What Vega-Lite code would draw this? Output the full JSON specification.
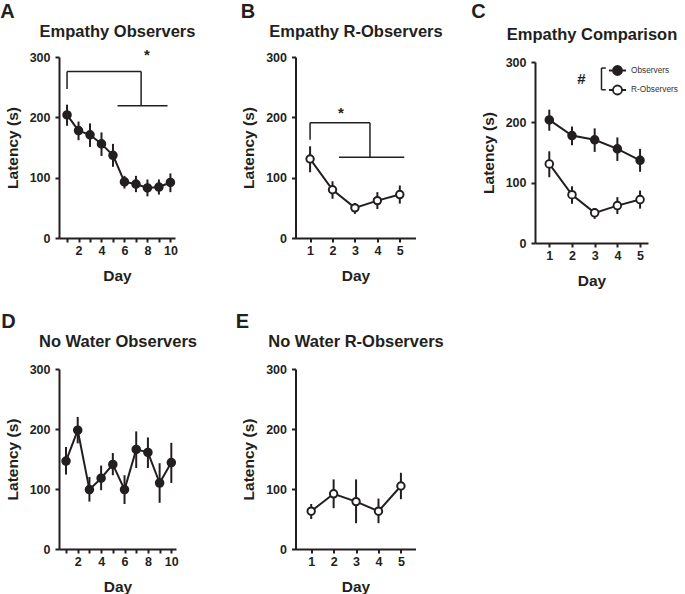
{
  "$schema": "https://vega.github.io/schema/vega-lite/v6.json",
  "padding": {"left": 0, "top": 1, "right": 0, "bottom": 0},
  "background": "white",
  "datasets": {
    "obs": [
      {"day": 1, "mean": 204, "lo": 186, "hi": 221},
      {"day": 2, "mean": 178, "lo": 162, "hi": 193},
      {"day": 3, "mean": 171, "lo": 151, "hi": 190},
      {"day": 4, "mean": 156, "lo": 136, "hi": 175},
      {"day": 5, "mean": 137, "lo": 118, "hi": 156},
      {"day": 6, "mean": 93, "lo": 82, "hi": 103},
      {"day": 7, "mean": 89.5, "lo": 76, "hi": 103},
      {"day": 8, "mean": 83, "lo": 69, "hi": 97},
      {"day": 9, "mean": 84.5, "lo": 72, "hi": 97},
      {"day": 10, "mean": 92, "lo": 76, "hi": 107}
    ],
    "robs": [
      {"day": 1, "mean": 131, "lo": 109, "hi": 152},
      {"day": 2, "mean": 80, "lo": 65, "hi": 94},
      {"day": 3, "mean": 50, "lo": 40, "hi": 58},
      {"day": 4, "mean": 62, "lo": 48, "hi": 76},
      {"day": 5, "mean": 72, "lo": 57, "hi": 87}
    ],
    "comp": [
      {"group": "Observers", "day": 1, "mean": 204, "lo": 186, "hi": 221},
      {"group": "Observers", "day": 2, "mean": 178, "lo": 162, "hi": 193},
      {"group": "Observers", "day": 3, "mean": 171, "lo": 151, "hi": 190},
      {"group": "Observers", "day": 4, "mean": 156, "lo": 136, "hi": 175},
      {"group": "Observers", "day": 5, "mean": 137, "lo": 118, "hi": 156},
      {"group": "R-Observers", "day": 1, "mean": 131, "lo": 109, "hi": 152},
      {"group": "R-Observers", "day": 2, "mean": 80, "lo": 65, "hi": 94},
      {"group": "R-Observers", "day": 3, "mean": 50, "lo": 40, "hi": 58},
      {"group": "R-Observers", "day": 4, "mean": 62, "lo": 48, "hi": 76},
      {"group": "R-Observers", "day": 5, "mean": 72, "lo": 57, "hi": 87}
    ],
    "nw": [
      {"day": 1, "mean": 146.6, "lo": 124, "hi": 170},
      {"day": 2, "mean": 198, "lo": 176, "hi": 220},
      {"day": 3, "mean": 99, "lo": 79, "hi": 120},
      {"day": 4, "mean": 118, "lo": 98, "hi": 139},
      {"day": 5, "mean": 141, "lo": 123, "hi": 160},
      {"day": 6, "mean": 99, "lo": 75, "hi": 123},
      {"day": 7, "mean": 166, "lo": 135, "hi": 196},
      {"day": 8, "mean": 161, "lo": 135, "hi": 186},
      {"day": 9, "mean": 110, "lo": 77, "hi": 143},
      {"day": 10, "mean": 144, "lo": 110, "hi": 177}
    ],
    "nwr": [
      {"day": 1, "mean": 63, "lo": 50, "hi": 75},
      {"day": 2, "mean": 92, "lo": 68, "hi": 116},
      {"day": 3, "mean": 79, "lo": 43, "hi": 116},
      {"day": 4, "mean": 63, "lo": 43, "hi": 84},
      {"day": 5, "mean": 105, "lo": 83, "hi": 127}
    ],
    "brA": [
      {"x": 1, "x2": 1, "y": 247, "y2": 276},
      {"x": 1, "x2": 7.45, "y": 276, "y2": 276},
      {"x": 7.45, "x2": 7.45, "y": 276, "y2": 219},
      {"x": 5.4, "x2": 9.75, "y": 219, "y2": 219}
    ],
    "txA": [{"x": 7.95, "y": 304, "label": "*"}],
    "brB": [
      {"x": 1, "x2": 1, "y": 163, "y2": 191},
      {"x": 1, "x2": 3.67, "y": 191, "y2": 191},
      {"x": 3.67, "x2": 3.67, "y": 191, "y2": 134},
      {"x": 2.29, "x2": 5.2, "y": 134, "y2": 134}
    ],
    "txB": [{"x": 2.37, "y": 207, "label": "*"}],
    "brC": [
      {"x": 3.3, "x2": 3.3, "y": 254, "y2": 290},
      {"x": 3.3, "x2": 3.49, "y": 290, "y2": 290},
      {"x": 3.3, "x2": 3.49, "y": 254, "y2": 254}
    ],
    "txC": [{"x": 2.42, "y": 271, "label": "#"}]
  },
  "columns": 3,
  "bounds": "flush",
  "align": "each",
  "spacing": {"column": 119.5, "row": 126},
  "resolve": {"scale": {"fill": "independent"}, "legend": {"fill": "independent"}},
  "concat": [
    {
      "title": {"text": "A", "anchor": "start", "frame": "bounds", "dx": -5},
      "width": 116, "height": 181,
      "resolve": {"axis": {"x": "independent"}},
      "encoding": {
        "y": {"type": "quantitative", "scale": {"domain": [0, 300], "nice": false}, "axis": {"values": [0,100,200,300], "title": "Latency (s)", "titlePadding": 9, "labelPadding": 5}}
      },
      "layer": [
        {"data": {"name": "obs"}, "mark": {"type": "rule", "strokeWidth": 2, "color": "#231f20"},
         "encoding": {
           "x": {"field": "day", "type": "quantitative", "scale": {"domain": [0.3, 10.4], "nice": false, "zero": false},
                 "axis": {"orient": "bottom", "values": [1,2,3,4,5,6,7,8,9,10], "labelExpr": "datum.value % 2 == 0 ? datum.label : ''", "title": "Day", "labelFlush": false, "labelOverlap": false, "tickSize": 4, "labelPadding": 2, "titlePadding": 12}},
           "y": {"field": "lo"},
           "y2": {"field": "hi"}}},
        {"data": {"name": "obs"}, "mark": {"type": "line", "strokeWidth": 2, "color": "#231f20"},
         "encoding": {
           "x": {"field": "day", "type": "quantitative", "axis": {"orient": "top", "domain": false, "ticks": false, "labels": false, "title": "Empathy Observers", "titleFontSize": 16.5, "titlePadding": 17.5}},
           "y": {"field": "mean"}}},
        {"data": {"name": "obs"}, "mark": {"type": "point", "shape": "circle", "filled": true, "size": 60, "fill": "#231f20", "stroke": "#231f20", "strokeWidth": 1.8, "opacity": 1},
         "encoding": {
           "x": {"field": "day", "type": "quantitative", "axis": null},
           "y": {"field": "mean"}}},
        {"data": {"name": "brA"}, "mark": {"type": "rule", "strokeWidth": 1.5, "color": "#231f20"},
         "encoding": {
           "x": {"field": "x", "type": "quantitative", "axis": null}, "x2": {"field": "x2"},
           "y": {"field": "y"}, "y2": {"field": "y2"}}},
        {"data": {"name": "txA"}, "mark": {"type": "text", "fontSize": 15, "fontWeight": "bold", "font": "Liberation Sans", "color": "#231f20", "baseline": "middle"},
         "encoding": {
           "x": {"field": "x", "type": "quantitative", "axis": null},
           "y": {"field": "y"},
           "text": {"field": "label"}}}
      ]
    },
    {
      "title": {"text": "B", "anchor": "start", "frame": "bounds", "dx": -1},
      "width": 120, "height": 181,
      "resolve": {"axis": {"x": "independent"}},
      "encoding": {
        "y": {"type": "quantitative", "scale": {"domain": [0, 300], "nice": false}, "axis": {"values": [0,100,200,300], "title": "Latency (s)", "titlePadding": 9, "labelPadding": 5}}
      },
      "layer": [
        {"data": {"name": "robs"}, "mark": {"type": "rule", "strokeWidth": 2, "color": "#231f20"},
         "encoding": {
           "x": {"field": "day", "type": "quantitative", "scale": {"domain": [0.35, 5.7], "nice": false, "zero": false},
                 "axis": {"orient": "bottom", "values": [1,2,3,4,5], "title": "Day", "labelFlush": false, "labelOverlap": false, "tickSize": 4, "labelPadding": 2, "titlePadding": 12}},
           "y": {"field": "lo"},
           "y2": {"field": "hi"}}},
        {"data": {"name": "robs"}, "mark": {"type": "line", "strokeWidth": 2, "color": "#231f20"},
         "encoding": {
           "x": {"field": "day", "type": "quantitative", "axis": {"orient": "top", "domain": false, "ticks": false, "labels": false, "title": "Empathy R-Observers", "titleFontSize": 16.5, "titlePadding": 17.5}},
           "y": {"field": "mean"}}},
        {"data": {"name": "robs"}, "mark": {"type": "point", "shape": "circle", "filled": true, "size": 55, "fill": "#ffffff", "stroke": "#231f20", "strokeWidth": 2, "opacity": 1},
         "encoding": {
           "x": {"field": "day", "type": "quantitative", "axis": null},
           "y": {"field": "mean"}}},
        {"data": {"name": "brB"}, "mark": {"type": "rule", "strokeWidth": 1.5, "color": "#231f20"},
         "encoding": {
           "x": {"field": "x", "type": "quantitative", "axis": null}, "x2": {"field": "x2"},
           "y": {"field": "y"}, "y2": {"field": "y2"}}},
        {"data": {"name": "txB"}, "mark": {"type": "text", "fontSize": 15, "fontWeight": "bold", "font": "Liberation Sans", "color": "#231f20", "baseline": "middle"},
         "encoding": {
           "x": {"field": "x", "type": "quantitative", "axis": null},
           "y": {"field": "y"},
           "text": {"field": "label"}}}
      ]
    },
    {
      "title": {"text": "C", "anchor": "start", "frame": "bounds", "dx": -10, "offset": 5},
      "width": 113, "height": 186,
      "resolve": {"axis": {"x": "independent"}},
      "encoding": {
        "y": {"type": "quantitative", "scale": {"domain": [0, 300], "nice": false, "range": [186, 5]}, "axis": {"values": [0,100,200,300], "title": "Latency (s)", "titlePadding": 9, "labelPadding": 5}}
      },
      "layer": [
        {"data": {"name": "comp"}, "mark": {"type": "rule", "strokeWidth": 2, "color": "#231f20"},
         "encoding": {
           "x": {"field": "day", "type": "quantitative", "scale": {"domain": [0.37, 5.35], "nice": false, "zero": false},
                 "axis": {"orient": "bottom", "values": [1,2,3,4,5], "title": "Day", "labelFlush": false, "labelOverlap": false, "tickSize": 4, "labelPadding": 2, "titlePadding": 12}},
           "y": {"field": "lo"},
           "y2": {"field": "hi"},
           "detail": {"field": "group"}}},
        {"data": {"name": "comp"}, "mark": {"type": "line", "strokeWidth": 2, "color": "#231f20"},
         "encoding": {
           "x": {"field": "day", "type": "quantitative", "axis": {"orient": "top", "domain": false, "ticks": false, "labels": false, "title": "Empathy Comparison", "titleFontSize": 16.5, "titlePadding": 14.5}},
           "y": {"field": "mean"},
           "detail": {"field": "group"}}},
        {"data": {"name": "comp"}, "mark": {"type": "point", "shape": "circle", "filled": true, "size": 58, "stroke": "#231f20", "strokeWidth": 1.9, "opacity": 1},
         "encoding": {
           "x": {"field": "day", "type": "quantitative", "axis": null},
           "y": {"field": "mean"},
           "fill": {"field": "group", "type": "nominal",
                    "scale": {"domain": ["Observers", "R-Observers"], "range": ["#231f20", "#ffffff"]},
                    "legend": {"orient": "none", "legendX": 77, "legendY": 8, "title": null, "padding": 0,
                               "symbolType": "M-1,0A1,1,0,1,1,1,0A1,1,0,1,1,-1,0ZM-1.9,0L-1,0M1,0L1.9,0",
                               "symbolSize": 81, "symbolStrokeColor": "#231f20", "symbolStrokeWidth": 1.8,
                               "labelFont": "Liberation Sans", "labelFontSize": 8.3, "labelFontWeight": "normal", "labelColor": "#333333",
                               "labelOffset": 8, "rowPadding": 2.5,
                               "encode": {"symbols": {"update": {"stroke": {"value": "#231f20"}, "strokeWidth": {"value": 1.8}, "shape": {"value": "M-1,0A1,1,0,1,1,1,0A1,1,0,1,1,-1,0ZM-1.9,0L-1,0M1,0L1.9,0"}, "opacity": {"value": 1}}}}}}}},
        {"data": {"name": "brC"}, "mark": {"type": "rule", "strokeWidth": 1.5, "color": "#231f20"},
         "encoding": {
           "x": {"field": "x", "type": "quantitative", "axis": null}, "x2": {"field": "x2"},
           "y": {"field": "y"}, "y2": {"field": "y2"}}},
        {"data": {"name": "txC"}, "mark": {"type": "text", "fontSize": 15, "fontWeight": "bold", "font": "Liberation Sans", "color": "#231f20", "baseline": "middle"},
         "encoding": {
           "x": {"field": "x", "type": "quantitative", "axis": null},
           "y": {"field": "y"},
           "text": {"field": "label"}}}
      ]
    },
    {
      "title": {"text": "D", "anchor": "start", "frame": "bounds", "dx": -4},
      "width": 117, "height": 180,
      "resolve": {"axis": {"x": "independent"}},
      "encoding": {
        "y": {"type": "quantitative", "scale": {"domain": [0, 300], "nice": false}, "axis": {"values": [0,100,200,300], "title": "Latency (s)", "titlePadding": 9, "labelPadding": 5}}
      },
      "layer": [
        {"data": {"name": "nw"}, "mark": {"type": "rule", "strokeWidth": 2, "color": "#231f20"},
         "encoding": {
           "x": {"field": "day", "type": "quantitative", "scale": {"domain": [0.4, 10.4], "nice": false, "zero": false},
                 "axis": {"orient": "bottom", "values": [1,2,3,4,5,6,7,8,9,10], "labelExpr": "datum.value % 2 == 0 ? datum.label : ''", "title": "Day", "labelFlush": false, "labelOverlap": false, "tickSize": 4, "labelPadding": 2, "titlePadding": 12}},
           "y": {"field": "lo"},
           "y2": {"field": "hi"}}},
        {"data": {"name": "nw"}, "mark": {"type": "line", "strokeWidth": 2, "color": "#231f20"},
         "encoding": {
           "x": {"field": "day", "type": "quantitative", "axis": {"orient": "top", "domain": false, "ticks": false, "labels": false, "title": "No Water Observers", "titleFontSize": 16.5, "titlePadding": 19.5}},
           "y": {"field": "mean"}}},
        {"data": {"name": "nw"}, "mark": {"type": "point", "shape": "circle", "filled": true, "size": 60, "fill": "#231f20", "stroke": "#231f20", "strokeWidth": 1.8, "opacity": 1},
         "encoding": {
           "x": {"field": "day", "type": "quantitative", "axis": null},
           "y": {"field": "mean"}}}
      ]
    },
    {
      "title": {"text": "E", "anchor": "start", "frame": "bounds", "dx": -6},
      "width": 120, "height": 180,
      "resolve": {"axis": {"x": "independent"}},
      "encoding": {
        "y": {"type": "quantitative", "scale": {"domain": [0, 300], "nice": false}, "axis": {"values": [0,100,200,300], "title": "Latency (s)", "titlePadding": 9, "labelPadding": 5}}
      },
      "layer": [
        {"data": {"name": "nwr"}, "mark": {"type": "rule", "strokeWidth": 2, "color": "#231f20"},
         "encoding": {
           "x": {"field": "day", "type": "quantitative", "scale": {"domain": [0.3, 5.65], "nice": false, "zero": false},
                 "axis": {"orient": "bottom", "values": [1,2,3,4,5], "title": "Day", "labelFlush": false, "labelOverlap": false, "tickSize": 4, "labelPadding": 2, "titlePadding": 12}},
           "y": {"field": "lo"},
           "y2": {"field": "hi"}}},
        {"data": {"name": "nwr"}, "mark": {"type": "line", "strokeWidth": 2, "color": "#231f20"},
         "encoding": {
           "x": {"field": "day", "type": "quantitative", "axis": {"orient": "top", "domain": false, "ticks": false, "labels": false, "title": "No Water R-Observers", "titleFontSize": 16.5, "titlePadding": 19.5}},
           "y": {"field": "mean"}}},
        {"data": {"name": "nwr"}, "mark": {"type": "point", "shape": "circle", "filled": true, "size": 55, "fill": "#ffffff", "stroke": "#231f20", "strokeWidth": 2, "opacity": 1},
         "encoding": {
           "x": {"field": "day", "type": "quantitative", "axis": null},
           "y": {"field": "mean"}}}
      ]
    }
  ],
  "config": {
    "view": {"stroke": null},
    "font": "Liberation Sans",
    "axis": {"grid": false, "domainColor": "#231f20", "domainWidth": 2, "tickColor": "#231f20", "tickWidth": 2, "tickSize": 4,
             "labelFont": "Liberation Sans", "labelFontWeight": "bold", "labelFontSize": 12.5, "labelColor": "#231f20",
             "titleFont": "Liberation Sans", "titleFontWeight": "bold", "titleFontSize": 15.5, "titleColor": "#231f20"},
    "title": {"font": "Liberation Sans", "fontWeight": "bold", "fontSize": 20, "color": "#231f20", "offset": 2}
  }
}
